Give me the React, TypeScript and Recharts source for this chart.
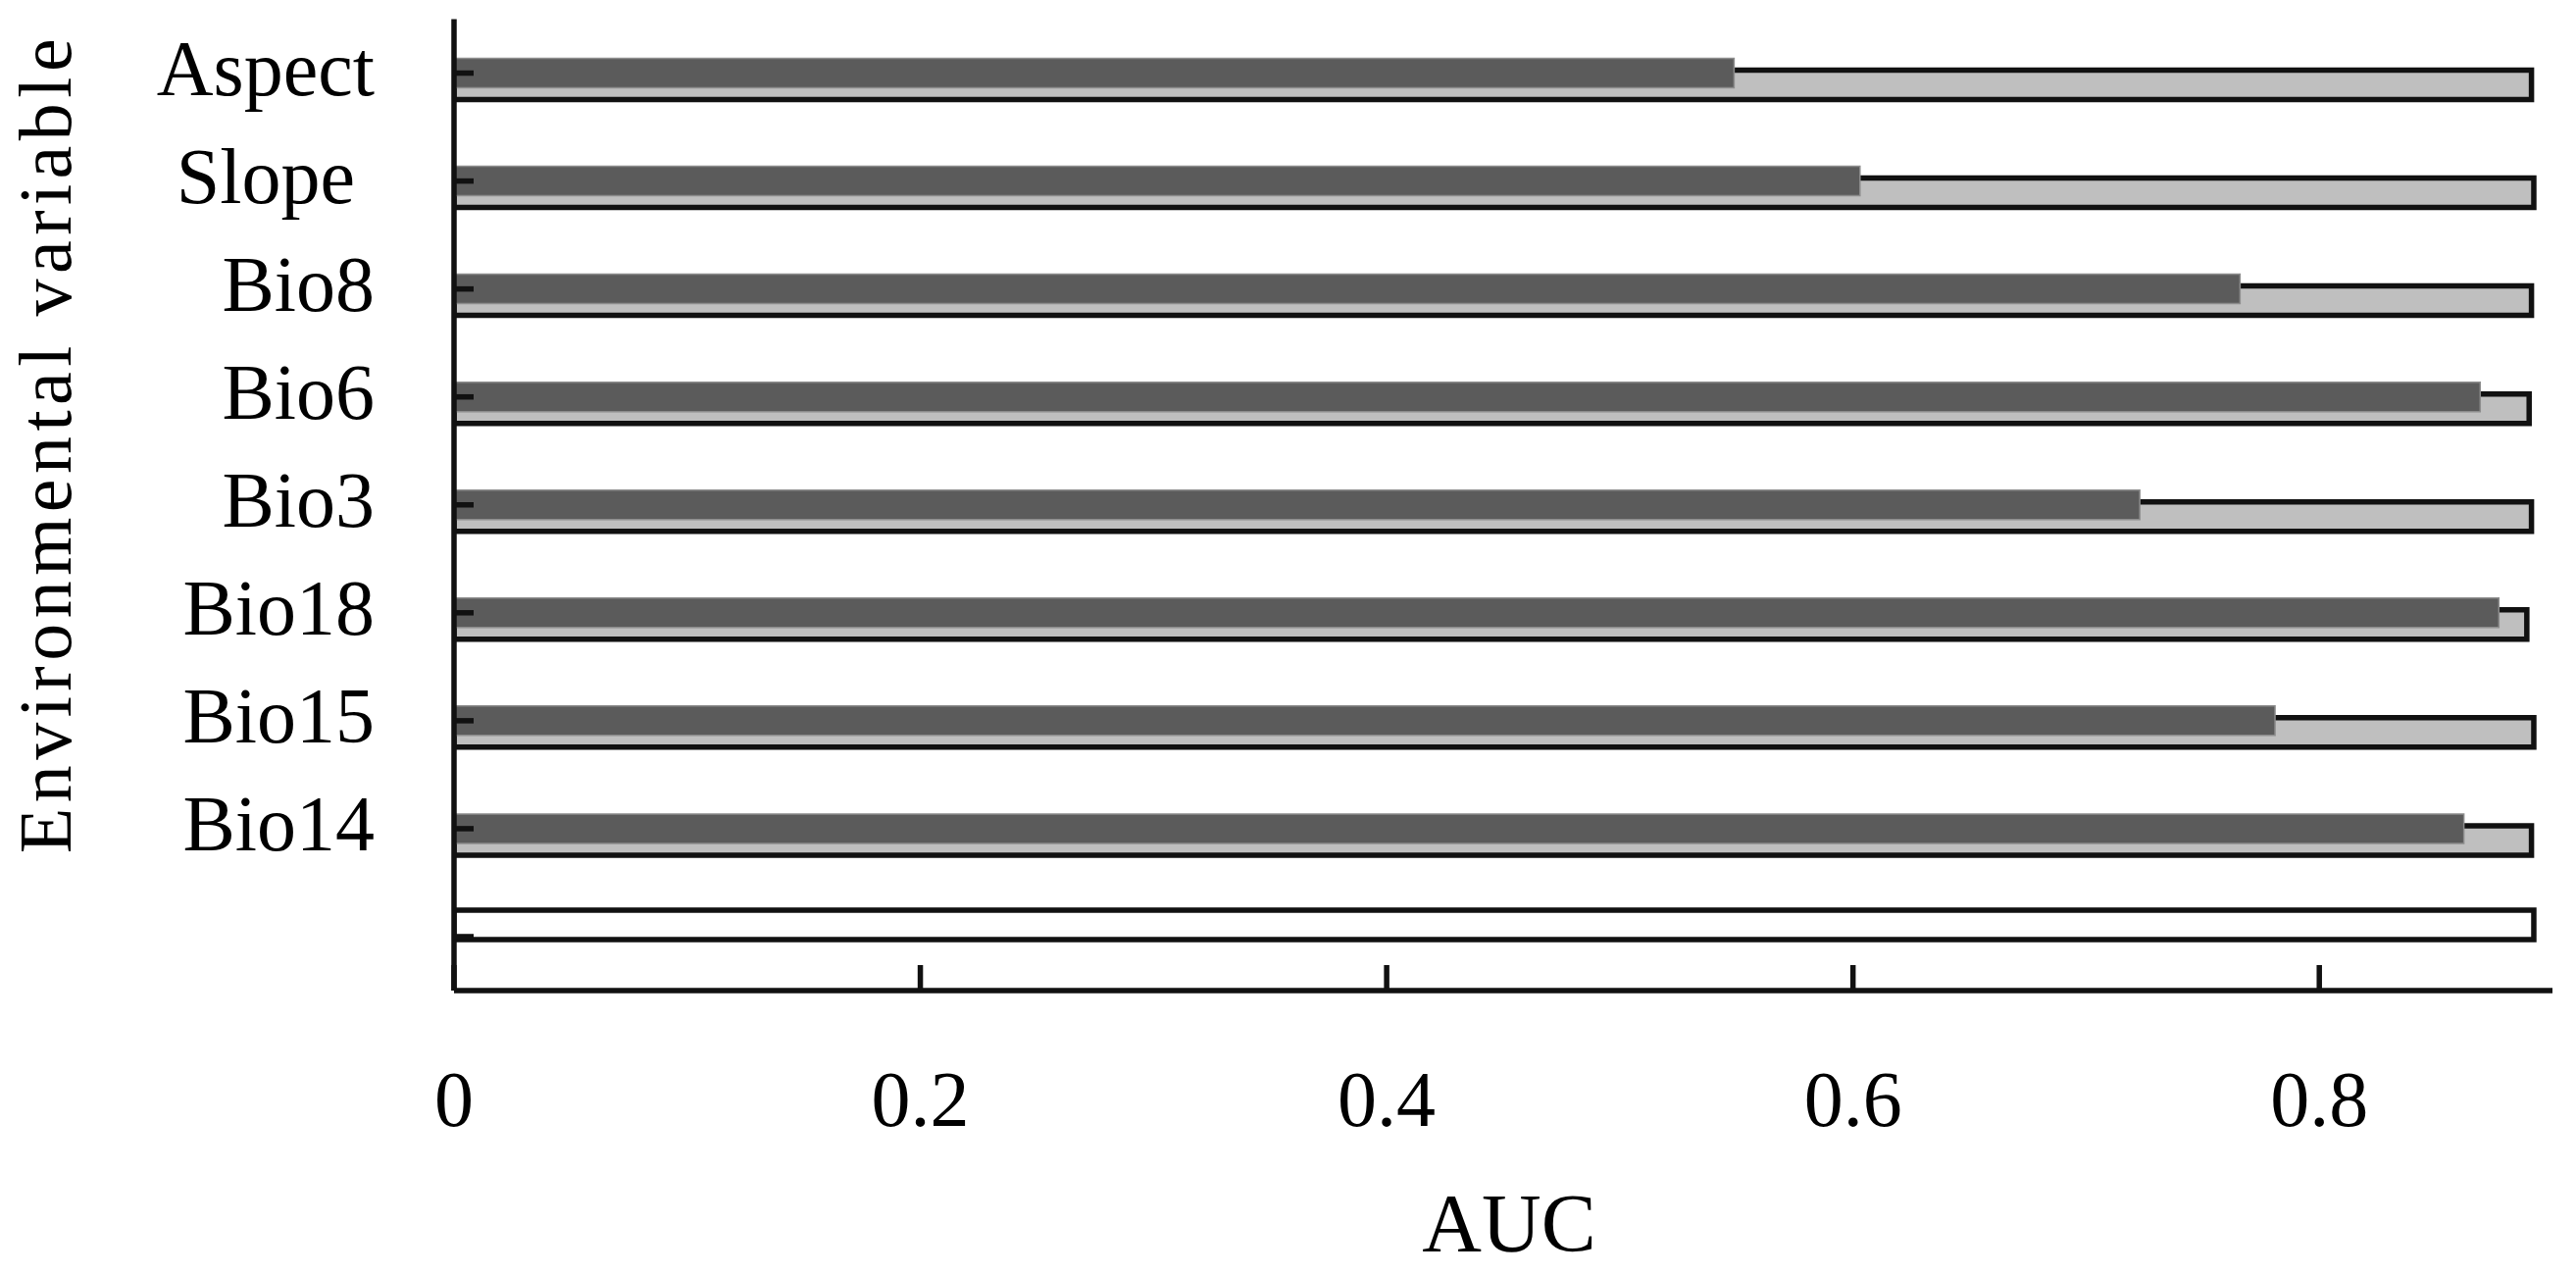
import React from "react";
import { BarChart, Bar, XAxis, YAxis } from "recharts";

// jackknife of AUC per environmental variable
const variables = ["Aspect", "Slope\u00a0", "Bio8", "Bio6", "Bio3", "Bio18", "Bio15", "Bio14", ""];
const withOnlyAuc = [0.549, 0.603, 0.766, 0.869, 0.723, 0.877, 0.781, 0.862, null];
const withoutAuc = [0.891, 0.892, 0.891, 0.89, 0.891, 0.889, 0.892, 0.891, null];
const withAllAuc = [null, null, null, null, null, null, null, null, 0.892];

const majorTicks = [0, 0.2, 0.4, 0.6, 0.8];
const minorTicks = [0.1, 0.3, 0.5, 0.7, 0.9];
const rowEdges = [0, 1, 2, 3, 4, 5, 6, 7, 8, 9];

const data = variables.map((name, i) => ({
  name,
  withOnly: withOnlyAuc[i],
  without: withoutAuc[i],
  withAll: withAllAuc[i],
}));

const FONT = '"Liberation Serif", "Times New Roman", serif';
const INK = "#111";
const line = { stroke: INK, strokeWidth: 5.5 };

const YTitle = () => (
  <text
    x={72}
    y={452}
    transform="rotate(-90, 72, 452)"
    textAnchor="middle"
    fontSize={76}
    letterSpacing={5.5}
    fontFamily={FONT}
    fill="#000"
  >
    Environmental variable
  </text>
);

const XTitle = () => (
  <text x={1539} y={1276} textAnchor="middle" fontSize={84} fontFamily={FONT} fill="#000">
    AUC
  </text>
);

const App = () => {
  return (
    <div style={{ position: "absolute", left: 0, top: 0, width: 2627, height: 1300, background: "#fff" }}>
      <BarChart
        width={2627}
        height={1300}
        data={data}
        layout="vertical"
        barGap={-6}
        margin={{ top: 19.5, right: 24, bottom: 90, left: 0 }}
      >
        <Bar dataKey="withAll" yAxisId="pair" barSize={30} fill="#ffffff" stroke={INK} strokeWidth={5.5} isAnimationActive={false} />
        <Bar dataKey="without" yAxisId="pair" barSize={30} fill="#bfbfbf" stroke={INK} strokeWidth={5.5} isAnimationActive={false} />
        <Bar dataKey="withOnly" yAxisId="cat" barSize={30} fill="#5b5b5b" stroke="#8c8c8c" strokeWidth={1.5} isAnimationActive={false} />

        <XAxis
          type="number"
          domain={[0, 0.9]}
          allowDataOverflow
          ticks={majorTicks}
          interval={0}
          height={200}
          tickSize={-26}
          tickMargin={107}
          axisLine={line}
          tickLine={line}
          tick={{ fill: "#000", fontSize: 80, fontFamily: FONT }}
          label={XTitle}
        />
        <XAxis
          xAxisId="minor"
          type="number"
          domain={[0, 0.9]}
          allowDataOverflow
          ticks={minorTicks}
          interval={0}
          mirror
          tick={false}
          axisLine={false}
          tickSize={19}
          tickLine={line}
        />
        <YAxis
          yAxisId="cat"
          type="category"
          dataKey="name"
          width={463}
          interval={0}
          tickSize={-20}
          tickMargin={101}
          axisLine={line}
          tickLine={line}
          tick={{ fill: "#000", fontSize: 80, fontFamily: FONT, dy: -6 }}
          label={YTitle}
        />
        <YAxis yAxisId="pair" type="category" dataKey="name" hide />
        <YAxis
          yAxisId="grid"
          type="number"
          domain={[0, 9]}
          allowDataOverflow
          ticks={rowEdges}
          interval={0}
          mirror
          tick={false}
          axisLine={false}
          tickSize={27}
          tickLine={line}
        />
      </BarChart>
    </div>
  );
};

export default App;
